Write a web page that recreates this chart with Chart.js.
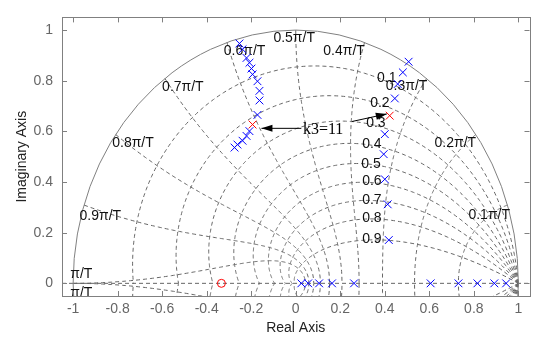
<!DOCTYPE html>
<html>
<head>
<meta charset="utf-8">
<script src="https://cdn.jsdelivr.net/npm/chart.js@4.4.1/dist/chart.umd.min.js"></script>
<style>
  html, body { margin: 0; padding: 0; background: #fff; }
</style>
</head>
<body>
<canvas id="rlocus" width="536" height="340"></canvas>
<script>
// rama superior izquierda (polos en azul)
const ramaIzqX = [-0.253, -0.239, -0.221, -0.208, -0.199, -0.194, -0.172, -0.163, -0.163, -0.172, -0.208, -0.221, -0.239, -0.262, -0.275];
const ramaIzqY = [0.947, 0.924, 0.890, 0.871, 0.848, 0.825, 0.798, 0.760, 0.722, 0.665, 0.601, 0.582, 0.563, 0.548, 0.536];
// rama derecha
const ramaDerX = [0.507, 0.481, 0.458, 0.445, 0.400, 0.395, 0.400, 0.413, 0.418];
const ramaDerY = [0.875, 0.833, 0.787, 0.730, 0.589, 0.510, 0.411, 0.312, 0.171];
// polos sobre el eje real
const ejeRealX = [0.025, 0.056, 0.105, 0.163, 0.262, 0.606, 0.731, 0.816, 0.892, 0.945];
// polos para k3 = 11 (rojo)
const polosK3X = [-0.194, 0.422];
const polosK3Y = [0.627, 0.662];
// cero
const ceroX = [-0.334];
const ceroY = [0];

const xTicks = [-1, -0.8, -0.6, -0.4, -0.2, 0, 0.2, 0.4, 0.6, 0.8, 1];
const yTicks = [0, 0.2, 0.4, 0.6, 0.8, 1];

// zgrid
const amortiguamientos = [0.1, 0.2, 0.3, 0.4, 0.5, 0.6, 0.7, 0.8, 0.9];
const frecuencias = [0.1, 0.2, 0.3, 0.4, 0.5, 0.6, 0.7, 0.8, 0.9, 1.0]; // wn*T/pi
const etiqFrec = ["0.1\u03c0/T", "0.2\u03c0/T", "0.3\u03c0/T", "0.4\u03c0/T", "0.5\u03c0/T", "0.6\u03c0/T", "0.7\u03c0/T", "0.8\u03c0/T", "0.9\u03c0/T", "\u03c0/T", "\u03c0/T"];
const etiqFrecX = [0.869, 0.717, 0.498, 0.217, -0.007, -0.230, -0.507, -0.731, -0.878, -0.963, -0.963];
const etiqFrecY = [0.270, 0.555, 0.779, 0.916, 0.970, 0.916, 0.776, 0.555, 0.266, 0.038, -0.038];
const etiqAmort = ["0.1", "0.2", "0.3", "0.4", "0.5", "0.6", "0.7", "0.8", "0.9"];
const etiqAmortX = [0.409, 0.378, 0.360, 0.342, 0.338, 0.342, 0.342, 0.342, 0.342];
const etiqAmortY = [0.810, 0.711, 0.631, 0.551, 0.471, 0.403, 0.327, 0.259, 0.175];

const FUENTE = "'Liberation Sans', Arial, sans-serif";

function pares(xs, ys) {
  return xs.map((x, i) => ({ x, y: ys[i] }));
}

function trazar(ctx, sx, sy, puntos) {
  ctx.beginPath();
  puntos.forEach((p, i) => {
    const px = sx.getPixelForValue(p[0]);
    const py = sy.getPixelForValue(p[1]);
    if (i === 0) ctx.moveTo(px, py); else ctx.lineTo(px, py);
  });
  ctx.stroke();
}

function flecha(ctx, x1, y1, x2, y2) {
  const ang = Math.atan2(y2 - y1, x2 - x1);
  ctx.beginPath();
  ctx.moveTo(x1, y1);
  ctx.lineTo(x2, y2);
  ctx.stroke();
  ctx.beginPath();
  ctx.moveTo(x2, y2);
  ctx.lineTo(x2 - 11 * Math.cos(ang) + 3.5 * Math.sin(ang), y2 - 11 * Math.sin(ang) - 3.5 * Math.cos(ang));
  ctx.lineTo(x2 - 11 * Math.cos(ang) - 3.5 * Math.sin(ang), y2 - 11 * Math.sin(ang) + 3.5 * Math.cos(ang));
  ctx.closePath();
  ctx.fill();
}

const zgridPlugin = {
  id: "zgrid",
  beforeDatasetsDraw(chart) {
    const { ctx, chartArea: a } = chart;
    const sx = chart.scales.x, sy = chart.scales.y;
    ctx.save();
    ctx.beginPath();
    ctx.rect(a.left, a.top, a.right - a.left, a.bottom - a.top);
    ctx.clip();
    ctx.strokeStyle = "#666";
    ctx.lineWidth = 1;
    ctx.setLineDash([4, 3]);

    // curvas de amortiguamiento constante
    amortiguamientos.forEach(z => {
      const k = z / Math.sqrt(1 - z * z);
      [1, -1].forEach(s => {
        const pts = [];
        for (let i = 0; i <= 300; i++) {
          const th = Math.PI * i / 300;
          const r = Math.exp(-k * th);
          pts.push([r * Math.cos(th), s * r * Math.sin(th)]);
        }
        trazar(ctx, sx, sy, pts);
      });
    });

    // curvas de frecuencia natural constante
    frecuencias.forEach(f => {
      const wn = f * Math.PI;
      [1, -1].forEach(s => {
        const pts = [];
        for (let i = 0; i <= 200; i++) {
          const z = i / 200;
          const r = Math.exp(-z * wn);
          const th = wn * Math.sqrt(1 - z * z);
          pts.push([r * Math.cos(th), s * r * Math.sin(th)]);
        }
        trazar(ctx, sx, sy, pts);
      });
    });

    // eje real
    trazar(ctx, sx, sy, [[sx.min, 0], [sx.max, 0]]);

    // circulo unitario
    ctx.setLineDash([]);
    ctx.strokeStyle = "#808080";
    const cx = sx.getPixelForValue(0), cy = sy.getPixelForValue(0);
    ctx.beginPath();
    ctx.ellipse(cx, cy, sx.getPixelForValue(1) - cx, cy - sy.getPixelForValue(1), 0, 0, Math.PI * 2);
    ctx.stroke();

    // etiquetas de la rejilla
    ctx.fillStyle = "#111";
    ctx.font = "14px " + FUENTE;
    ctx.textAlign = "center";
    ctx.textBaseline = "middle";
    etiqFrec.forEach((t, i) => {
      ctx.fillText(t, sx.getPixelForValue(etiqFrecX[i]), sy.getPixelForValue(etiqFrecY[i]));
    });
    etiqAmort.forEach((t, i) => {
      ctx.fillText(t, sx.getPixelForValue(etiqAmortX[i]), sy.getPixelForValue(etiqAmortY[i]));
    });
    ctx.restore();
  },
  afterDatasetsDraw(chart) {
    const { ctx } = chart;
    const sx = chart.scales.x, sy = chart.scales.y;
    ctx.save();
    // anotacion k3=11
    ctx.fillStyle = "#000";
    ctx.strokeStyle = "#000";
    ctx.lineWidth = 1;
    ctx.font = "16px 'Liberation Serif', 'Times New Roman', serif";
    ctx.textAlign = "center";
    ctx.textBaseline = "middle";
    ctx.fillText("k3=11", sx.getPixelForValue(0.123), sy.getPixelForValue(0.608));
    flecha(ctx, sx.getPixelForValue(0.025), sy.getPixelForValue(0.612), sx.getPixelForValue(-0.154), sy.getPixelForValue(0.612));
    flecha(ctx, sx.getPixelForValue(0.253), sy.getPixelForValue(0.639), sx.getPixelForValue(0.409), sy.getPixelForValue(0.669));
    ctx.restore();
  },
  afterDraw(chart) {
    const { ctx, chartArea: a } = chart;
    const sx = chart.scales.x, sy = chart.scales.y;
    ctx.save();
    ctx.strokeStyle = "#808080";
    ctx.lineWidth = 1;
    ctx.strokeRect(Math.round(a.left) + 0.5, Math.round(a.top) + 0.5, Math.round(a.right - a.left), Math.round(a.bottom - a.top));
    ctx.beginPath();
    xTicks.forEach(v => {
      const px = Math.round(sx.getPixelForValue(v)) + 0.5;
      ctx.moveTo(px, a.bottom); ctx.lineTo(px, a.bottom - 5);
      ctx.moveTo(px, a.top); ctx.lineTo(px, a.top + 5);
    });
    yTicks.forEach(v => {
      const py = Math.round(sy.getPixelForValue(v)) + 0.5;
      ctx.moveTo(a.left, py); ctx.lineTo(a.left + 5, py);
      ctx.moveTo(a.right, py); ctx.lineTo(a.right - 5, py);
    });
    ctx.stroke();

    // titulos de ejes
    ctx.fillStyle = "#222";
    ctx.font = "14px " + FUENTE;
    ctx.textAlign = "center";
    ctx.textBaseline = "middle";
    ctx.fillText("Real Axis", (a.left + a.right) / 2, 328);
    ctx.translate(22, (a.top + a.bottom) / 2);
    ctx.rotate(-Math.PI / 2);
    ctx.fillText("Imaginary Axis", 0, 0);
    ctx.restore();
  }
};

const marcaX = { pointStyle: "crossRot", pointRadius: 5.5, pointHoverRadius: 5.5, pointBorderWidth: 1, showLine: false };

new Chart(document.getElementById("rlocus"), {
  type: "scatter",
  data: {
    datasets: [
      { label: "rama izquierda", data: pares(ramaIzqX, ramaIzqY), borderColor: "#0000ff", backgroundColor: "#0000ff", ...marcaX },
      { label: "rama derecha", data: pares(ramaDerX, ramaDerY), borderColor: "#0000ff", backgroundColor: "#0000ff", ...marcaX },
      { label: "eje real", data: pares(ejeRealX, ejeRealX.map(() => 0)), borderColor: "#0000ff", backgroundColor: "#0000ff", ...marcaX },
      { label: "k3=11", data: pares(polosK3X, polosK3Y), borderColor: "#ff0000", backgroundColor: "#ff0000", ...marcaX },
      { label: "cero", data: pares(ceroX, ceroY), pointStyle: "circle", pointRadius: 4, pointHoverRadius: 4, pointBorderWidth: 1, borderColor: "#ff0000", backgroundColor: "rgba(0,0,0,0)", showLine: false }
    ]
  },
  options: {
    responsive: false,
    animation: false,
    events: [],
    layout: { padding: { top: 6, right: 4, left: 0, bottom: 0 } },
    plugins: { legend: { display: false }, tooltip: { enabled: false } },
    scales: {
      x: {
        type: "linear", min: -1.05, max: 1.05,
        afterBuildTicks: s => { s.ticks = xTicks.map(v => ({ value: v })); },
        afterFit: s => { s.height = 44; },
        grid: { display: false, drawTicks: false },
        border: { display: false },
        ticks: { color: "#666", padding: 5, font: { family: FUENTE, size: 14 }, callback: v => String(Math.round(v * 10) / 10) }
      },
      y: {
        type: "linear", min: -0.05, max: 1.05,
        afterBuildTicks: s => { s.ticks = yTicks.map(v => ({ value: v })); },
        afterFit: s => { s.width = 62; },
        grid: { display: false, drawTicks: false },
        border: { display: false },
        ticks: { color: "#666", padding: 9, font: { family: FUENTE, size: 14 }, callback: v => String(Math.round(v * 10) / 10) }
      }
    }
  },
  plugins: [zgridPlugin]
});
</script>
</body>
</html>
